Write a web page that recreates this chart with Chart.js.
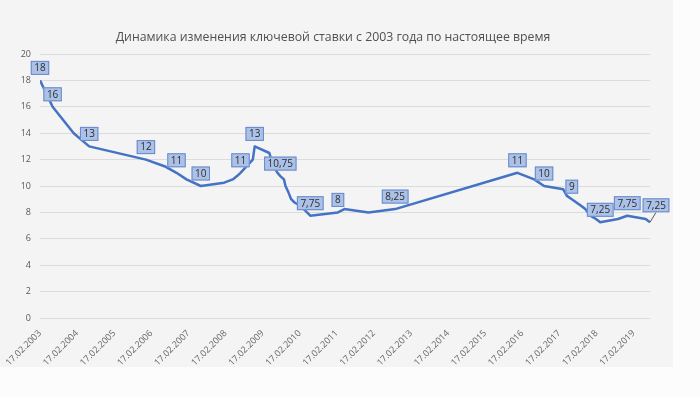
<!DOCTYPE html>
<html>
<head>
<meta charset="utf-8">
<script src="https://cdn.jsdelivr.net/npm/chart.js@4/dist/chart.umd.min.js"></script>
<style>
    html, body { margin: 0; padding: 0; background: #fcfcfc; }
    #panel { position: absolute; left: 0; top: 0; width: 673px; height: 367px; background: #f4f4f4; }
    #wrap { position: absolute; left: 0; top: 0; width: 700px; height: 398px; }
</style>
</head>
<body>
<div id="panel"></div>
<div id="wrap"><canvas id="rate_chart" width="700" height="398"></canvas></div>
<script>
const chart_title = 'Динамика изменения ключевой ставки с 2003 года по настоящее время'

const rate_dates = [
    '17.02.2003', '21.06.2003', '15.01.2004', '15.06.2004', '26.12.2005', '26.06.2006',
    '23.10.2006', '29.01.2007', '19.06.2007', '04.02.2008', '29.04.2008', '10.06.2008',
    '14.07.2008', '12.11.2008', '01.12.2008', '24.04.2009', '14.05.2009', '05.06.2009',
    '13.07.2009', '10.08.2009', '15.09.2009', '30.09.2009', '30.10.2009', '25.11.2009',
    '28.12.2009', '24.02.2010', '29.03.2010', '30.04.2010', '01.06.2010', '28.02.2011',
    '03.05.2011', '26.12.2011', '14.09.2012', '01.01.2016', '14.06.2016', '19.09.2016',
    '27.03.2017', '02.05.2017', '19.06.2017', '18.09.2017', '30.10.2017', '18.12.2017',
    '12.02.2018', '26.03.2018', '17.09.2018', '17.12.2018', '17.06.2019', '29.07.2019'
]
const rate_values = [
    18, 16, 14, 13, 12, 11.5,
    11, 10.5, 10, 10.25, 10.5, 10.75,
    11, 12, 13, 12.5, 12, 11.5,
    11, 10.75, 10.5, 10, 9.5, 9,
    8.75, 8.5, 8.25, 8, 7.75, 8,
    8.25, 8, 8.25, 11, 10.5, 10,
    9.75, 9.25, 9, 8.5, 8.25, 7.75,
    7.5, 7.25, 7.5, 7.75, 7.5, 7.25
]
// dates whose value is shown in a box
const labelled_dates = [
    '17.02.2003', '21.06.2003', '15.06.2004', '26.12.2005', '23.10.2006', '19.06.2007',
    '14.07.2008', '01.12.2008', '10.08.2009', '01.06.2010', '28.02.2011', '14.09.2012',
    '01.01.2016', '19.09.2016', '19.06.2017', '26.03.2018', '17.12.2018', '29.07.2019'
]
const x_tick_labels = [
    '17.02.2003', '17.02.2004', '17.02.2005', '17.02.2006', '17.02.2007', '17.02.2008',
    '17.02.2009', '17.02.2010', '17.02.2011', '17.02.2012', '17.02.2013', '17.02.2014',
    '17.02.2015', '17.02.2016', '17.02.2017', '17.02.2018', '17.02.2019'
]

const to_time = (s) => {
    const [d, m, y] = s.split('.').map(Number)
    return Date.UTC(y, m - 1, d)
}
const fmt_date = (t) => {
    const d = new Date(t)
    const pad = (n) => String(n).padStart(2, '0')
    return `${pad(d.getUTCDate())}.${pad(d.getUTCMonth() + 1)}.${d.getUTCFullYear()}`
}

const title_plugin = {
    id: 'title_text',
    beforeDraw: (chart) => {
        const ctx = chart.ctx
        ctx.save()
        ctx.fillStyle = '#505050'
        ctx.font = '12.3px "Open Sans"'
        ctx.textAlign = 'center'
        ctx.textBaseline = 'middle'
        ctx.fillText(chart_title, 333, 37)
        ctx.restore()
    }
}

const box_labels_plugin = {
    id: 'box_labels',
    afterDatasetsDraw: (chart) => {
        const ctx = chart.ctx
        const meta = chart.getDatasetMeta(0)
        ctx.save()
        ctx.font = '10px "Open Sans"'
        ctx.textAlign = 'center'
        ctx.textBaseline = 'middle'
        labelled_dates.forEach((ds, n) => {
            const i = rate_dates.indexOf(ds)
            const pt = meta.data[i]
            const text = String(rate_values[i]).replace('.', ',')
            const last = n === labelled_dates.length - 1
            const cx = pt.x + (last ? 6 : 0)
            const cy = pt.y - (last ? 17 : 12.5)
            const w = ctx.measureText(text).width + 7
            const h = 14
            if (last) {
                ctx.strokeStyle = '#595959'
                ctx.lineWidth = 1
                ctx.beginPath()
                ctx.moveTo(pt.x, pt.y)
                ctx.lineTo(cx, cy + h / 2)
                ctx.stroke()
            }
            ctx.fillStyle = '#abc1e7'
            ctx.strokeStyle = '#6689cc'
            ctx.lineWidth = 1
            ctx.fillRect(cx - w / 2, cy - h / 2, w, h)
            ctx.strokeRect(cx - w / 2 + 0.5, cy - h / 2 + 0.5, w - 1, h - 1)
            ctx.fillStyle = '#2e2e2e'
            ctx.fillText(text, cx, cy + 0.5)
        })
        ctx.restore()
    }
}

window.addEventListener('load', () => {
    const points = rate_dates.map((d, i) => ({x: to_time(d), y: rate_values[i]}))
    const tick_times = x_tick_labels.map(to_time)

    new Chart(document.getElementById('rate_chart'), {
        type: 'line',
        data: {
            datasets: [{
                data: points,
                borderColor: '#4472c4',
                borderWidth: 2.5,
                pointRadius: 0,
                tension: 0,
                borderJoinStyle: 'round',
                fill: false
            }]
        },
        options: {
            responsive: false,
            animation: false,
            layout: {padding: {top: 54, right: 50, left: 0, bottom: 0}},
            plugins: {legend: {display: false}, tooltip: {enabled: false}, title: {display: false}},
            scales: {
                x: {
                    type: 'linear',
                    min: to_time(rate_dates[0]),
                    max: to_time(rate_dates[rate_dates.length - 1]),
                    grid: {display: false},
                    border: {display: false},
                    afterBuildTicks: (scale) => {
                        scale.ticks = tick_times.map(v => ({value: v}))
                    },
                    afterFit: (scale) => { scale.height = 80 },
                    ticks: {
                        autoSkip: false,
                        minRotation: 45,
                        maxRotation: 45,
                        padding: 2,
                        color: '#666666',
                        font: {family: 'Open Sans', size: 9},
                        callback: (v) => fmt_date(v)
                    }
                },
                y: {
                    min: 0,
                    max: 20,
                    grid: {color: '#dcdcdc', lineWidth: 1, drawTicks: false},
                    border: {display: false},
                    afterFit: (scale) => { scale.width = 40 },
                    ticks: {
                        stepSize: 2,
                        padding: 9,
                        color: '#595959',
                        font: {family: 'Open Sans', size: 9}
                    }
                }
            }
        },
        plugins: [title_plugin, box_labels_plugin]
    })
})
</script>
</body>
</html>
